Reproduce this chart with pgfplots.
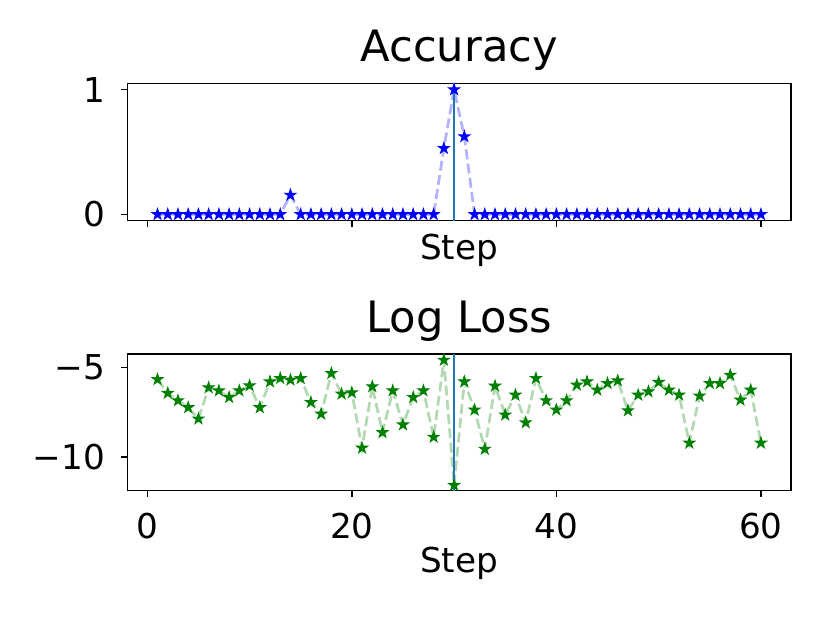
\documentclass[border=0pt]{standalone}
\usepackage{pgfplots}
\pgfplotsset{compat=1.18}
\usepackage{fontspec}
\setmainfont{DejaVu Sans}
\definecolor{tabblue}{HTML}{1F77B4}
\definecolor{mplgreen}{HTML}{008000}
\pgfdeclareplotmark{fstar}{%
 \pgfpathmoveto{\pgfpointpolar{90}{\pgfplotmarksize}}%
 \pgfpathlineto{\pgfpointpolar{126}{0.381966\pgfplotmarksize}}%
 \pgfpathlineto{\pgfpointpolar{162}{\pgfplotmarksize}}%
 \pgfpathlineto{\pgfpointpolar{198}{0.381966\pgfplotmarksize}}%
 \pgfpathlineto{\pgfpointpolar{234}{\pgfplotmarksize}}%
 \pgfpathlineto{\pgfpointpolar{270}{0.381966\pgfplotmarksize}}%
 \pgfpathlineto{\pgfpointpolar{306}{\pgfplotmarksize}}%
 \pgfpathlineto{\pgfpointpolar{342}{0.381966\pgfplotmarksize}}%
 \pgfpathlineto{\pgfpointpolar{18}{\pgfplotmarksize}}%
 \pgfpathlineto{\pgfpointpolar{54}{0.381966\pgfplotmarksize}}%
 \pgfpathclose
 \pgfusepathqfillstroke
}
\pgfplotstableread{
x y
1 0
2 0
3 0
4 0
5 0
6 0
7 0
8 0
9 0
10 0
11 0
12 0
13 0
14 0.155
15 0
16 0
17 0
18 0
19 0
20 0
21 0
22 0
23 0
24 0
25 0
26 0
27 0
28 0
29 0.53
30 1.0
31 0.624
32 0
33 0
34 0
35 0
36 0
37 0
38 0
39 0
40 0
41 0
42 0
43 0
44 0
45 0
46 0
47 0
48 0
49 0
50 0
51 0
52 0
53 0
54 0
55 0
56 0
57 0
58 0
59 0
60 0
}\acc
\pgfplotstableread{
x y
1 -5.67
2 -6.44
3 -6.85
4 -7.24
5 -7.87
6 -6.13
7 -6.30
8 -6.67
9 -6.30
10 -6.02
11 -7.24
12 -5.80
13 -5.61
14 -5.70
15 -5.61
16 -6.95
17 -7.60
18 -5.33
19 -6.48
20 -6.41
21 -9.50
22 -6.07
23 -8.63
24 -6.30
25 -8.20
26 -6.67
27 -6.30
28 -8.89
29 -4.59
30 -11.58
31 -5.80
32 -7.37
33 -9.56
34 -6.04
35 -7.65
36 -6.54
37 -8.08
38 -5.61
39 -6.85
40 -7.37
41 -6.85
42 -5.98
43 -5.80
44 -6.26
45 -5.89
46 -5.74
47 -7.41
48 -6.54
49 -6.35
50 -5.83
51 -6.26
52 -6.54
53 -9.22
54 -6.59
55 -5.89
56 -5.89
57 -5.43
58 -6.82
59 -6.26
60 -9.22
}\loss
\pgfplotsset{mystyle/.style={
 scale only axis, width=368.5pt,
 xmin=-1.95, xmax=62.95,
 axis line style={line width=0.8pt},
 every tick/.style={line width=0.8pt, black},
 major tick length=3.5pt,
 tick align=outside, xtick pos=bottom, ytick pos=left,
 xtick={0,20,40,60},
 ticklabel style={font=\fontsize{19}{22}\selectfont},
 /pgf/number format/assume math mode=true,
 label style={font=\fontsize{19}{22}\selectfont},
 title style={font=\fontsize{24}{28}\selectfont, at={(0.5,1)}, anchor=base, yshift=6pt},
 yticklabel style={anchor=east, inner sep=0pt, xshift=-8.7pt},
 xlabel=Step,
 anchor=south west,
}}
\begin{document}
\begin{tikzpicture}
\path[use as bounding box] (0,0) rectangle (460.8pt,345.6pt);
\begin{axis}[mystyle, at={(70.7pt,223.1pt)}, height=76.2pt,
 ymin=-0.05, ymax=1.05, ytick={0,1}, yticklabels={0,1},
 xticklabels={{},{},{},{}},
 title=Accuracy,
 xlabel style={at={(axis description cs:0.5,0)}, anchor=base, yshift=-21.3pt}]
\addplot[blue, opacity=0.3, dashed, line width=1.5pt, dash pattern=on 5.55pt off 2.4pt, no marks] table[x=x,y=y]{\acc};
\addplot[only marks, mark=fstar, mark size=3.1pt, blue, mark options={fill=blue, line width=0.6pt}] table[x=x,y=y]{\acc};
\addplot[tabblue, line width=1.5pt, no marks] coordinates {(30,-0.05) (30,1.05)};
\end{axis}
\begin{axis}[mystyle, at={(70.7pt,73.2pt)}, height=75.9pt,
 ymin=-11.88, ymax=-4.25, ytick={-10,-5}, yticklabels={−10,−5},
 xticklabels={0,20,40,60},
 xticklabel style={anchor=base, yshift=-22.9pt},
 title=Log Loss,
 xlabel style={at={(axis description cs:0.5,0)}, anchor=base, yshift=-45.6pt}]
\addplot[mplgreen, opacity=0.3, line width=1.5pt, dash pattern=on 5.55pt off 2.4pt, no marks] table[x=x,y=y]{\loss};
\addplot[only marks, mark=fstar, mark size=3.1pt, mplgreen, mark options={fill=mplgreen, line width=0.6pt}] table[x=x,y=y]{\loss};
\addplot[tabblue, line width=1.5pt, no marks] coordinates {(30,-11.88) (30,-4.25)};
\end{axis}
\end{tikzpicture}
\end{document}
